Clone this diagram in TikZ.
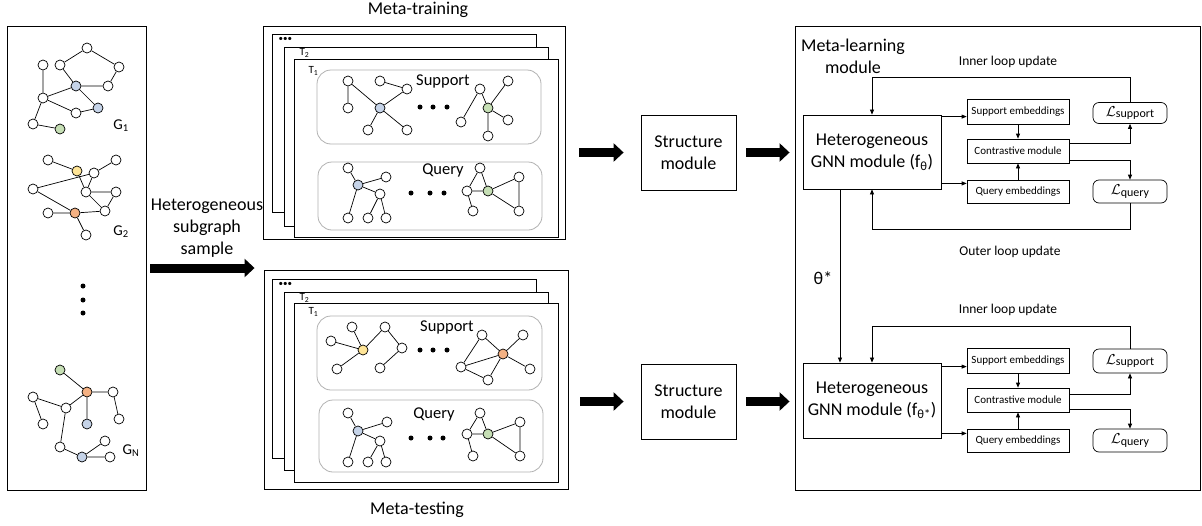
\documentclass[tikz,border=0pt]{standalone}
\usepackage{fontspec}
\setmainfont{Carlito}
\usetikzlibrary{arrows.meta,positioning}

\definecolor{nblue}{HTML}{C5D3E8}
\definecolor{ngreen}{HTML}{C6DFB5}
\definecolor{nyellow}{HTML}{FFE597}
\definecolor{norange}{HTML}{F4B183}

\tikzset{
  vtx/.style={circle,draw,fill=white,inner sep=0pt,minimum size=10pt,line width=0.7pt},
  lnk/.style={line width=0.7pt},
  dotc/.style={circle,fill=black,inner sep=0pt,minimum size=5pt},
  layer/.style={draw,fill=white,line width=0.8pt},
  setbox/.style={draw=black!30,fill=white,rounded corners=14pt,line width=0.8pt},
  bigarrow/.style={-{Triangle[length=10pt,width=18pt]},line width=9pt},
  arr/.style={-{Triangle[length=5pt,width=4pt]},line width=0.7pt},
  modbox/.style={draw,line width=0.8pt,align=center,font=\fontsize{18}{22}\selectfont},
  embbox/.style={draw,line width=0.7pt,minimum width=102pt,minimum height=24pt,font=\fontsize{11}{13}\selectfont},
  lossbox/.style={draw,line width=0.7pt,rounded corners=6pt,minimum width=74pt,minimum height=21pt,font=\fontsize{12}{14}\selectfont},
  bigtxt/.style={align=center,font=\fontsize{18}{22}\selectfont},
  settxt/.style={font=\fontsize{16.5}{18}\selectfont},
  looptxt/.style={font=\fontsize{13.5}{15}\selectfont},
  gtxt/.style={font=\fontsize{15}{16}\selectfont},
  ttxt/.style={anchor=west,font=\fontsize{11}{12}\selectfont},
}
\newcommand{\lossname}[1]{{\fontsize{14}{14}\selectfont$\mathcal{L}$}\raisebox{-1.5pt}{#1}}

\begin{document}
\begin{tikzpicture}[x=1pt,y=-1pt]
\useasboundingbox (0,0) rectangle (1202,525);

% 左侧：异构图集合
\node[draw,line width=0.8pt,minimum width=139pt,minimum height=464pt] (pool) at (76.5,258) {};

% G1
\node[vtx] (g1a) at (87,48) {};
\node[vtx] (g1b) at (43,65) {};
\node[vtx] (g1c) at (60,65) {};
\node[vtx] (g1d) at (119,67) {};
\node[vtx,fill=nblue] (g1e) at (76,86) {};
\node[vtx] (g1f) at (108,86) {};
\node[vtx] (g1g) at (43,98) {};
\node[vtx,fill=nblue] (g1h) at (98,108) {};
\node[vtx] (g1i) at (76,113) {};
\node[vtx] (g1j) at (33,124) {};
\node[vtx,fill=ngreen] (g1k) at (60,129) {};
\draw[lnk] (g1c)--(g1a) (g1a)--(g1d) (g1d)--(g1f) (g1f)--(g1e) (g1e)--(g1c) (g1b)--(g1g)
  (g1g)--(g1e) (g1g)--(g1i) (g1i)--(g1h) (g1e)--(g1h) (g1g)--(g1j) (g1j)--(g1k);
\node[gtxt] (lg1) at (121,126) {G\textsubscript{1}};

% G2
\node[vtx] (g2a) at (48,160) {};
\node[vtx,fill=nyellow] (g2b) at (77,171) {};
\node[vtx] (g2c) at (116,160) {};
\node[vtx] (g2d) at (94,173) {};
\node[vtx] (g2e) at (33,189) {};
\node[vtx] (g2f) at (86,192) {};
\node[vtx] (g2g) at (116,192) {};
\node[vtx] (g2h) at (48,213) {};
\node[vtx,fill=norange] (g2i) at (75,213) {};
\node[vtx] (g2j) at (105,211) {};
\node[vtx] (g2k) at (86,235) {};
\draw[lnk] (g2a)--(g2b) (g2b)--(g2f) (g2c)--(g2d) (g2d)--(g2e) (g2d)--(g2f) (g2f)--(g2g)
  (g2f)--(g2j) (g2g)--(g2j) (g2e)--(g2i) (g2h)--(g2i) (g2i)--(g2j) (g2i)--(g2k);
\node[gtxt] (lg2) at (121,232) {G\textsubscript{2}};

% 省略号
\node[dotc] (vd1) at (83,286) {};
\node[dotc] (vd2) at (83,300) {};
\node[dotc] (vd3) at (83,313) {};

% GN
\node[vtx,fill=ngreen] (gna) at (60,370) {};
\node[vtx,fill=norange] (gnb) at (87,392) {};
\node[vtx] (gnc) at (113,392) {};
\node[vtx] (gnd) at (33,397) {};
\node[vtx] (gne) at (66,408) {};
\node[vtx,fill=nblue] (gnf) at (87,424) {};
\node[vtx] (gng) at (43,424) {};
\node[vtx] (gnh) at (119,419) {};
\node[vtx] (gni) at (105,441) {};
\node[vtx] (gnj) at (60,447) {};
\node[vtx,fill=nblue] (gnk) at (82,457) {};
\node[vtx] (gnl) at (110,457) {};
\draw[lnk] (gna)--(gnb) (gnb)--(gnc) (gnc)--(gnh) (gnb)--(gnf) (gnb)--(gne) (gnd)--(gne)
  (gnd)--(gng) (gne)--(gnj) (gnj)--(gnk) (gnk)--(gni) (gnk)--(gnl);
\node[gtxt] (lgn) at (131,451) {G\textsubscript{N}};

% 采样箭头
\node[bigtxt] (samp) at (207,228) {Heterogeneous\\subgraph\\sample};

% 元训练
\node[draw,line width=0.9pt,minimum width=302pt,minimum height=213pt] (train) at (414,132.5) {};
\node[bigtxt] (ltrain) at (418,10) {Meta-training};
\draw[layer] (272,34) rectangle (536,212);
\draw[layer] (284,47) rectangle (548,226);
\draw[layer] (294,59) rectangle (558,237);
\node[font=\fontsize{9}{9}\selectfont,anchor=west] (tdots) at (275,39) {•••};
\node[ttxt] (tt2) at (296,53) {T\textsubscript{2}};
\node[ttxt] (tt1) at (305,71) {T\textsubscript{1}};
\draw[setbox] (317,70) rectangle (541,144);
\draw[setbox] (318,162) rectangle (542,230);
\node[settxt] (tsup) at (443,81) {Support};
\node[settxt] (tqry) at (443,170) {Query};

\node[vtx] (tsa) at (348,81) {};
\node[vtx] (tsb) at (380,81) {};
\node[vtx] (tsc) at (407,89) {};
\node[vtx] (tsd) at (348,108) {};
\node[vtx,fill=nblue] (tse) at (380,108) {};
\node[vtx] (tsf) at (368,130) {};
\node[vtx] (tsg) at (407,130) {};
\draw[lnk] (tsa)--(tsd) (tsa)--(tse) (tsb)--(tsc) (tsc)--(tse) (tse)--(tsf) (tse)--(tsg);
\node[dotc] (tsd1) at (420,107) {};
\node[dotc] (tsd2) at (433,107) {};
\node[dotc] (tsd3) at (447,107) {};
\node[vtx] (tsh) at (480,89) {};
\node[vtx] (tsi) at (508,81) {};
\node[vtx,fill=ngreen] (tsj) at (488,108) {};
\node[vtx] (tsk) at (461,122) {};
\node[vtx] (tsl) at (508,120) {};
\node[vtx] (tsm) at (488,136) {};
\draw[lnk] (tsh)--(tsk) (tsh)--(tsj) (tsi)--(tsj) (tsj)--(tsl) (tsj)--(tsm);

\node[vtx] (tqa) at (348,168) {};
\node[vtx] (tqb) at (386,177) {};
\node[vtx,fill=nblue] (tqc) at (358,185) {};
\node[vtx] (tqd) at (380,194) {};
\node[vtx] (tqe) at (348,218) {};
\node[vtx] (tqf) at (368,218) {};
\node[vtx] (tqg) at (386,218) {};
\draw[lnk] (tqa)--(tqc) (tqc)--(tqb) (tqc)--(tqe) (tqc)--(tqd) (tqd)--(tqf) (tqd)--(tqg);
\node[dotc] (tqd1) at (411,193) {};
\node[dotc] (tqd2) at (430,193) {};
\node[dotc] (tqd3) at (444,193) {};
\node[vtx] (tqh) at (480,168) {};
\node[vtx] (tqi) at (519,177) {};
\node[vtx] (tqj) at (467,191) {};
\node[vtx,fill=ngreen] (tqk) at (488,191) {};
\node[vtx] (tql) at (473,211) {};
\node[vtx] (tqm) at (519,211) {};
\draw[lnk] (tqh)--(tqj) (tqh)--(tqk) (tqj)--(tqk) (tqj)--(tql) (tqk)--(tqi) (tqi)--(tqm) (tqk)--(tqm);

% 元测试
\node[draw,line width=0.9pt,minimum width=304pt,minimum height=219pt] (test) at (416,379.5) {};
\node[bigtxt] (ltest) at (417,510) {Meta-testing};
\draw[layer] (272,279) rectangle (536,458);
\draw[layer] (284,292) rectangle (548,470);
\draw[layer] (294,303) rectangle (558,482);
\node[font=\fontsize{9}{9}\selectfont,anchor=west] (edots) at (275,284) {•••};
\node[ttxt] (et2) at (296,298) {T\textsubscript{2}};
\node[ttxt] (et1) at (305,312) {T\textsubscript{1}};
\draw[setbox] (317,316) rectangle (542,390);
\draw[setbox] (319,400) rectangle (543,472);
\node[settxt] (esup) at (447,327) {Support};
\node[settxt] (eqry) at (434,414) {Query};

\node[vtx] (esa) at (352,327) {};
\node[vtx] (esb) at (385,327) {};
\node[vtx] (esc) at (331,341) {};
\node[vtx,fill=nyellow] (esd) at (363,350) {};
\node[vtx] (ese) at (402,348) {};
\node[vtx] (esf) at (337,369) {};
\node[vtx] (esg) at (380,368) {};
\draw[lnk] (esa)--(esd) (esc)--(esd) (esd)--(esf) (esd)--(esb) (esb)--(ese) (ese)--(esg);
\node[dotc] (esd1) at (420,350) {};
\node[dotc] (esd2) at (433,350) {};
\node[dotc] (esd3) at (447,350) {};
\node[vtx] (esh) at (482,335) {};
\node[vtx] (esi) at (523,335) {};
\node[vtx,fill=norange] (esj) at (503,354) {};
\node[vtx] (esk) at (461,367) {};
\node[vtx] (esl) at (530,369) {};
\node[vtx] (esm) at (488,380) {};
\draw[lnk] (esh)--(esk) (esh)--(esj) (esk)--(esj) (esi)--(esj) (esj)--(esl) (esj)--(esm) (esk)--(esm);

\node[vtx] (eqa) at (348,413) {};
\node[vtx] (eqb) at (387,422) {};
\node[vtx,fill=nblue] (eqc) at (358,431) {};
\node[vtx] (eqd) at (380,441) {};
\node[vtx] (eqe) at (348,462) {};
\node[vtx] (eqf) at (368,462) {};
\node[vtx] (eqg) at (386,462) {};
\draw[lnk] (eqa)--(eqc) (eqc)--(eqb) (eqc)--(eqe) (eqc)--(eqd) (eqd)--(eqf) (eqd)--(eqg);
\node[dotc] (eqd1) at (411,438) {};
\node[dotc] (eqd2) at (430,438) {};
\node[dotc] (eqd3) at (443,438) {};
\node[vtx] (eqh) at (480,413) {};
\node[vtx] (eqi) at (520,422) {};
\node[vtx] (eqj) at (467,434) {};
\node[vtx,fill=ngreen] (eqk) at (488,434) {};
\node[vtx] (eql) at (473,456) {};
\node[vtx] (eqm) at (520,456) {};
\draw[lnk] (eqh)--(eqj) (eqh)--(eqk) (eqj)--(eqk) (eqj)--(eql) (eqk)--(eqi) (eqi)--(eqm) (eqk)--(eqm);

% 结构模块
\node[modbox,minimum width=95pt,minimum height=75pt] (struct1) at (688.5,152.5) {Structure\\module};
\node[modbox,minimum width=95pt,minimum height=75pt] (struct2) at (688.5,401.5) {Structure\\module};

% 元学习模块
\node[draw,line width=0.9pt,minimum width=405pt,minimum height=464pt] (metabox) at (997.5,258) {};
\node[bigtxt] (lmeta) at (853,56) {Meta-learning\\module};

\node[modbox,minimum width=138pt,minimum height=74pt] (gnn1) at (872,152) {Heterogeneous\\GNN module (f\textsubscript{θ})};
\node[embbox,minimum height=25pt] (semb1) at (1018,111.5) {Support embeddings};
\node[embbox] (cont1) at (1018,151) {Contrastive module};
\node[embbox,minimum height=23pt] (qemb1) at (1018,191.5) {Query embeddings};
\node[lossbox] (lsup1) at (1130,113) {\lossname{support}};
\node[lossbox,minimum height=23pt] (lqry1) at (1130,191.5) {\lossname{query}};
\node[looptxt] (in1) at (1008,62) {Inner loop update};
\node[looptxt] (out1) at (1010,252) {Outer loop update};

\node[modbox,minimum width=138pt,minimum height=75pt] (gnn2) at (872,400.5) {Heterogeneous\\GNN module (f\textsubscript{θ*})};
\node[embbox,minimum height=25pt] (semb2) at (1018,360.5) {Support embeddings};
\node[embbox] (cont2) at (1018,400) {Contrastive module};
\node[embbox,minimum height=23pt] (qemb2) at (1018,440.5) {Query embeddings};
\node[lossbox,minimum height=24pt] (lsup2) at (1130,361) {\lossname{support}};
\node[lossbox,minimum height=23pt] (lqry2) at (1130,440.5) {\lossname{query}};
\node[looptxt] (in2) at (1008,310) {Inner loop update};
\node[bigtxt] (ltheta) at (823,278) {θ*};

% 粗箭头
\draw[bigarrow,shorten <=4pt,shorten >=9pt] ([yshift=-10pt]pool.east) -- ([yshift=-10pt]pool.east -| test.west);
\draw[bigarrow,shorten <=14pt,shorten >=17pt] (train.east |- struct1) -- (struct1);
\draw[bigarrow,shorten <=12pt,shorten >=17pt] (test.east |- struct2) -- (struct2);
\draw[bigarrow,shorten <=10pt,shorten >=5pt] (struct1) -- (struct1 -| metabox.west);
\draw[bigarrow,shorten <=10pt,shorten >=5pt] (struct2) -- (struct2 -| metabox.west);

% 上半部分连线
\draw[arr] ([yshift=-2pt]gnn1.north east) -- ([yshift=-2pt]gnn1.north east -| semb1.west);
\draw[arr] ([yshift=6pt]gnn1.south east) -- ([yshift=6pt]gnn1.south east -| qemb1.west);
\draw[arr] (semb1) -- (cont1);
\draw[arr] (qemb1) -- (cont1);
\draw[arr] ([yshift=8pt]cont1.east) -| (lsup1.south);
\draw[arr] ([yshift=-9pt]cont1.east) -| (lqry1.north);
\draw[arr] (lsup1.north) -- ++(0,-25) -| (gnn1.north);
\draw[arr] (lqry1.south) -- ++(0,26) -| (gnn1.south);
\draw[arr] ([xshift=-32pt]gnn1.south) -- ([xshift=-32pt]gnn2.north);

% 下半部分连线
\draw[arr] ([yshift=-4pt]gnn2.north east) -- ([yshift=-4pt]gnn2.north east -| semb2.west);
\draw[arr] ([yshift=5pt]gnn2.south east) -- ([yshift=5pt]gnn2.south east -| qemb2.west);
\draw[arr] (semb2) -- (cont2);
\draw[arr] (qemb2) -- (cont2);
\draw[arr] ([yshift=6pt]cont2.east) -| (lsup2.south);
\draw[arr] ([yshift=-9pt]cont2.east) -| (lqry2.north);
\draw[arr] (lsup2.north) -- ++(0,-22) -| (gnn2.north);
\end{tikzpicture}
\end{document}
